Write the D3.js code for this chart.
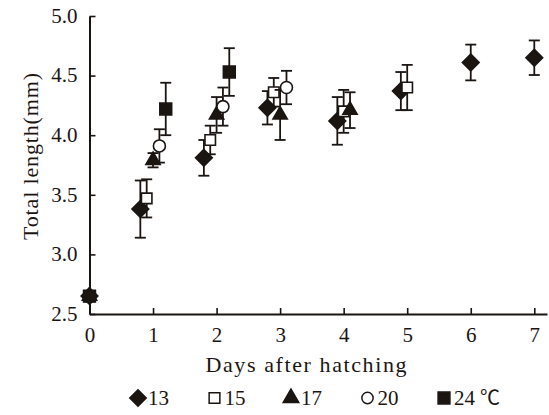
<!DOCTYPE html>
<html><head><meta charset="utf-8">
<script src="https://cdn.jsdelivr.net/npm/d3@7"></script>
<style>
html,body{margin:0;padding:0;background:#fff;}
svg{display:block;}
text{font-family:"Liberation Serif","Times New Roman",serif;fill:#1b1512;}
</style></head>
<body>
<svg id="chart" width="549" height="415"></svg>
<script>
// ---- data ----
const seriesNames = ["13", "15", "17", "20", "24"];
const unitLabel = "℃";
// plotted x position (days after hatching, with the small horizontal offsets of the original)
const x13 = [0, 0.8, 1.8, 2.8, 3.9, 4.9, 6.0, 7.0];
const y13 = [2.65, 3.38, 3.81, 4.23, 4.12, 4.37, 4.61, 4.65];
const e13 = [0.02, 0.24, 0.15, 0.14, 0.20, 0.16, 0.15, 0.145];
const x15 = [0, 0.9, 1.9, 2.9, 4.0, 5.0];
const y15 = [2.65, 3.47, 3.96, 4.36, 4.20, 4.40];
const e15 = [0.02, 0.16, 0.12, 0.12, 0.18, 0.19];
const x17 = [0, 1.0, 2.0, 3.0, 4.1];
const y17 = [2.65, 3.79, 4.17, 4.17, 4.21];
const e17 = [0.02, 0.06, 0.15, 0.21, 0.15];
const x20 = [0, 1.1, 2.1, 3.1];
const y20 = [2.65, 3.91, 4.24, 4.40];
const e20 = [0.02, 0.14, 0.16, 0.14];
const x24 = [0, 1.2, 2.2];
const y24 = [2.65, 4.22, 4.53];
const e24 = [0.02, 0.22, 0.20];
const xTicks = [0, 1, 2, 3, 4, 5, 6, 7];
const yTicks = [2.5, 3.0, 3.5, 4.0, 4.5, 5.0];
const xTitle = "Days after hatching";
const yTitle = "Total length(mm)";

// ---- drawing ----
const ink = "#1b1512";
const svg = d3.select("#chart");
const xS = d3.scaleLinear().domain([0, 7.2]).range([89.5, 547]);
const yS = d3.scaleLinear().domain([2.5, 5.0]).range([314, 16]);

const diamondType = {
  draw(ctx, size) {
    const r = Math.sqrt(size / 2);
    ctx.moveTo(0, -r); ctx.lineTo(r, 0); ctx.lineTo(0, r); ctx.lineTo(-r, 0); ctx.closePath();
  }
};

const series = [
  {xs: x13, ys: y13, es: e13, type: diamondType, size: 140, fill: ink, lsize: 135},
  {xs: x15, ys: y15, es: e15, type: d3.symbolSquare, size: 110, fill: "#fff", lsize: 115},
  {xs: x17, ys: y17, es: e17, type: d3.symbolTriangle, size: 88, fill: ink, lsize: 105},
  {xs: x20, ys: y20, es: e20, type: d3.symbolCircle, size: 113, fill: "#fff", lsize: 100},
  {xs: x24, ys: y24, es: e24, type: d3.symbolSquare, size: 140, fill: ink, lsize: 140}
];

// axes
const yAxis = d3.axisLeft(yS).tickValues(yTicks).tickFormat(d3.format(".1f"))
  .tickSizeInner(-6).tickSizeOuter(0).tickPadding(12);
const gy = svg.append("g").attr("transform", `translate(${xS(0)},0)`).call(yAxis);
const xAxis = d3.axisBottom(xS).tickValues(xTicks).tickFormat(d3.format("d"))
  .tickSizeInner(-6).tickSizeOuter(0).tickPadding(13);
const gx = svg.append("g").attr("transform", `translate(0,${yS(2.5)})`).call(xAxis);
[gx, gy].forEach(g => {
  g.select(".domain").attr("stroke", ink).attr("stroke-width", 2);
  g.selectAll(".tick line").attr("stroke", ink).attr("stroke-width", 1.6);
  g.selectAll(".tick text").attr("fill", ink).style("font-size", "21px")
    .style("font-family", '"Liberation Serif", serif');
});
gy.selectAll(".tick text").attr("dy", "0.3em");

// titles
svg.append("text").attr("x", 306).attr("y", 372).attr("text-anchor", "middle")
  .attr("textLength", 201).attr("lengthAdjust", "spacing")
  .style("font-size", "22px").text(xTitle);
svg.append("text").attr("transform", "translate(38,156.5) rotate(-90)").attr("text-anchor", "middle")
  .attr("textLength", 167).attr("lengthAdjust", "spacing")
  .style("font-size", "22px").text(yTitle);

// error bars + markers
series.forEach(s => {
  const g = svg.append("g");
  const pts = s.xs.map((x, i) => ({x, y: s.ys[i], e: s.es[i]}));
  const eb = g.selectAll("g.eb").data(pts).join("g").attr("class", "eb")
    .attr("stroke", ink).attr("stroke-width", 1.8).attr("fill", "none");
  eb.append("line").attr("x1", d => xS(d.x)).attr("x2", d => xS(d.x))
    .attr("y1", d => yS(d.y + d.e)).attr("y2", d => yS(d.y - d.e));
  [1, -1].forEach(sg => {
    eb.append("line").attr("x1", d => xS(d.x) - 5.5).attr("x2", d => xS(d.x) + 5.5)
      .attr("y1", d => yS(d.y + sg * d.e)).attr("y2", d => yS(d.y + sg * d.e));
  });
  g.selectAll("path.mk").data(pts).join("path").attr("class", "mk")
    .attr("transform", d => `translate(${xS(d.x)},${yS(d.y)})`)
    .attr("d", d3.symbol().type(s.type).size(s.size))
    .attr("fill", s.fill).attr("stroke", ink).attr("stroke-width", 1.6);
});

// legend
const leg = svg.append("g").attr("transform", "translate(138,0)");
const li = leg.selectAll("g").data(series).join("g")
  .attr("transform", (d, i) => `translate(${i * 76.5},0)`);
li.append("path").attr("transform", "translate(0,398)")
  .attr("d", d => d3.symbol().type(d.type).size(d.lsize)())
  .attr("fill", d => d.fill).attr("stroke", ink).attr("stroke-width", 1.5);
const lt = li.append("text").attr("x", 10).attr("y", 405).style("font-size", "21px")
  .text((d, i) => seriesNames[i]);
lt.filter((d, i) => i === seriesNames.length - 1).append("tspan")
  .attr("dx", 5).style("font-family", '"Noto Sans CJK SC", sans-serif')
  .style("font-size", "20px").text(unitLabel);
</script>
</body></html>
